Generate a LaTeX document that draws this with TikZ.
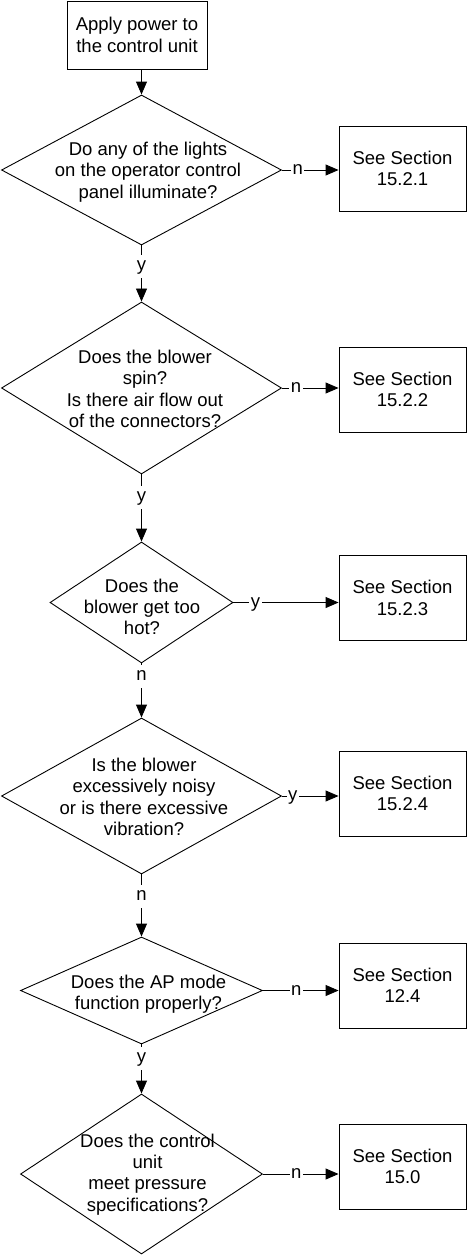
\documentclass[tikz,border=0pt]{standalone}
\usepackage{fontspec}
\setmainfont{Liberation Sans}
\usetikzlibrary{arrows.meta,positioning,shapes.geometric}

\tikzset{
  stepbox/.style={draw, rectangle, align=center, inner sep=0pt},
  seebox/.style={stepbox, minimum width=127pt, minimum height=85pt},
  decision/.style={draw, diamond, inner sep=0pt},
  asktext/.style={align=center, inner sep=0pt},
  tag/.style={fill=white, inner xsep=1.5pt, inner ysep=3pt, text height=13pt, text depth=4pt},
}

\begin{document}
\begin{tikzpicture}[x=1pt, y=-1pt, line width=0.9pt, on grid,
    >={Triangle[length=13pt,width=11pt]},
    every node/.style={font=\fontsize{18.5}{21.3}\selectfont}]
  \useasboundingbox (0,0) rectangle (467,1255);
  % main column
  \node[stepbox, minimum width=140pt, minimum height=68pt] (start) at (137,35) {Apply power to\\the control unit};
  \node[decision, minimum width=280pt, minimum height=150pt] (d1) at (141.5,170) {};
  \node[decision, minimum width=280pt, minimum height=172pt] (d2) [below=218pt of d1] {};
  \node[decision, minimum width=183pt, minimum height=121pt] (d3) [below=214.5pt of d2] {};
  \node[decision, minimum width=280pt, minimum height=156pt] (d4) [below=193.5pt of d3] {};
  \node[decision, minimum width=242pt, minimum height=107pt] (d5) [below=194.5pt of d4] {};
  \node[decision, minimum width=242pt, minimum height=160pt] (d6) [below=183.5pt of d5] {};
  % questions
  \node[asktext] (q1) at (148,172) {Do any of the lights\\on the operator control\\panel illuminate?};
  \node[asktext] (q2) at (145,389) {Does the blower\\spin?\\Is there air flow out\\of the connectors?};
  \node[asktext] (q3) at (142,607) {Does the\\blower get too\\hot?};
  \node[asktext] (q4) at (144,797) {Is the blower\\excessively noisy\\or is there excessive\\vibration?};
  \node[asktext] (q5) at (148.5,994) {Does the AP mode\\function properly?};
  \node[asktext] (q6) at (147.5,1174.5) {Does the control\\unit\\meet pressure\\specifications?};
  % side boxes
  \node[seebox] (b1) [right=261pt of d1, yshift=1.5pt] {See Section\\15.2.1};
  \node[seebox] (b2) [right=261pt of d2, yshift=-1.5pt] {See Section\\15.2.2};
  \node[seebox] (b3) [right=261pt of d3, yshift=4.5pt] {See Section\\15.2.3};
  \node[seebox] (b4) [right=261pt of d4, yshift=2.5pt] {See Section\\15.2.4};
  \node[seebox] (b5) [right=261pt of d5, yshift=5pt] {See Section\\12.4};
  \node[seebox] (b6) [right=261pt of d6, yshift=7.5pt] {See Section\\15.0};
  \path[->]
    (start.south -| d1.north) edge (d1.north)
    (d1) edge node[tag, pos=.37] {y} (d2)
    (d2) edge node[tag, pos=.34] {y} (d3)
    (d3) edge node[tag, pos=.24] {n} (d4)
    (d4) edge node[tag, pos=.35] {n} (d5)
    (d5) edge node[tag, pos=.28] {y} (d6)
    (d1.east) edge node[tag, pos=.28] {n} (d1.east -| b1.west)
    (d2.east) edge node[tag, pos=.25] {n} (d2.east -| b2.west)
    (d3.east) edge node[tag, pos=.21] {y} (d3.east -| b3.west)
    (d4.east) edge node[tag, pos=.19] {y} (d4.east -| b4.west)
    (d5.east) edge node[tag, pos=.44] {n} (d5.east -| b5.west)
    (d6.east) edge node[tag, pos=.44] {n} (d6.east -| b6.west);
\end{tikzpicture}
\end{document}
